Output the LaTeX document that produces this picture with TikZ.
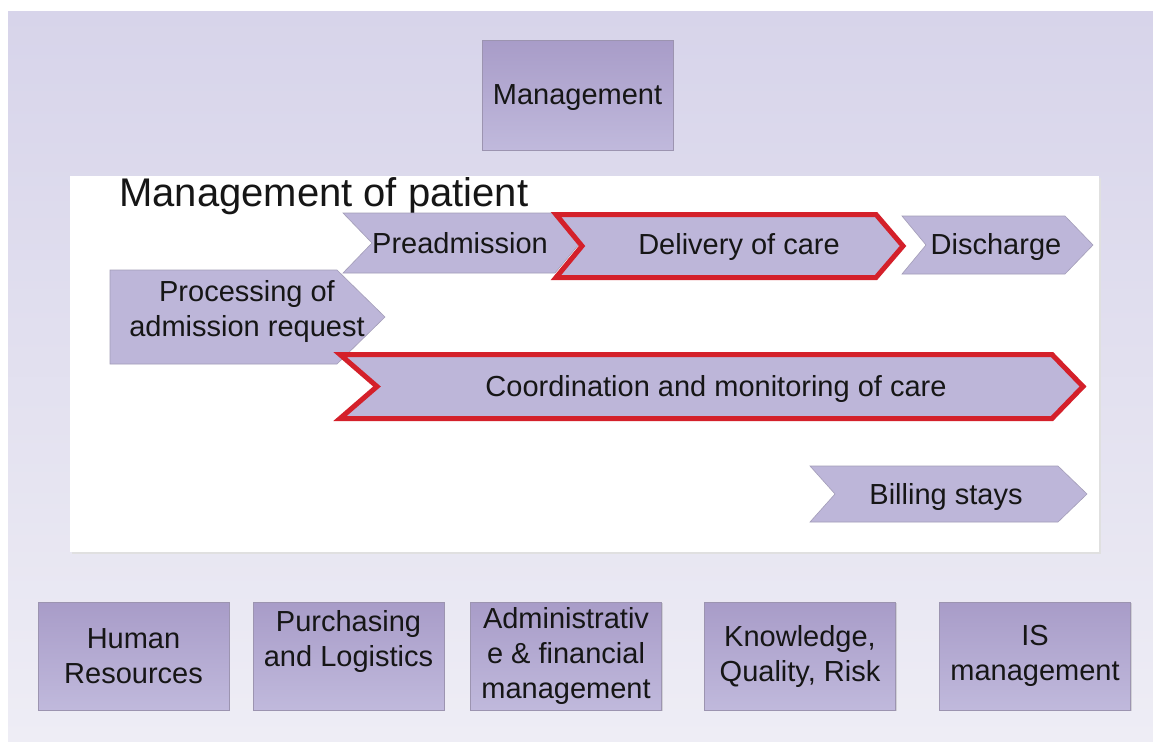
\documentclass[tikz,border=0pt]{standalone}
\usepackage{fontspec}
\setmainfont{Liberation Sans}
\usetikzlibrary{shadows}
\definecolor{bgtop}{HTML}{D7D4EA}
\definecolor{bgbot}{HTML}{EEEDF5}
\definecolor{boxtop}{HTML}{A89CC8}
\definecolor{boxbot}{HTML}{C0B9DC}
\definecolor{boxline}{HTML}{9C94B0}
\definecolor{arrfill}{HTML}{BDB6D9}
\definecolor{arrline}{HTML}{A39DB8}
\definecolor{hired}{HTML}{D4202A}
\definecolor{txt}{HTML}{161616}
\begin{document}
\begin{tikzpicture}[x=1pt,y=-1pt,
  lbl/.style={text=txt, align=center, inner sep=0pt, font=\fontsize{29}{35}\selectfont},
  bl/.style={lbl, anchor=base},
  box/.style={rectangle, top color=boxtop, bottom color=boxbot, draw=boxline, line width=0.6pt,
    minimum width=191pt, minimum height=108pt, inner sep=0pt, text=txt, align=center,
    font=\fontsize{29}{35}\selectfont,
    drop shadow={opacity=0.25, shadow xshift=1.2pt, shadow yshift=-1.2pt}},
  arr/.style={fill=arrfill, draw=arrline, line width=0.6pt, line join=miter},
  redarr/.style={fill=arrfill, draw=hired, line width=5pt, line join=miter}
]
\useasboundingbox (0,0) rectangle (1153,742);
\fill[white] (0,0) rectangle (1153,742);
% slide background
\shade[top color=bgtop, bottom color=bgbot] (8,11) rectangle (1153,741);
% white panel with faint shadow
\fill[black!12] (72,178) rectangle (1101,554);
\fill[white] (70,176) rectangle (1099,552);

% top management box
\node[box, minimum height=110pt] (mgmt) at (577.5,95) {};
\node[bl] (mgmtlbl) at (577.5,104) {Management};

% title
\node[anchor=base west, text=txt, inner sep=0pt, font=\fontsize{40}{45}\selectfont] (title) at (119,206) {Management of patient};

% Preadmission
\path[arr] (343,213) -- (555,213) -- (580,243) -- (555,273) -- (343,273) -- (372,243) -- cycle;
\node[bl] (pre) at (460,253) {Preadmission};

% Delivery of care (red)
\path[redarr] (556,214.5) -- (876,214.5) -- (903,246) -- (876,277.5) -- (556,277.5) -- (582,246) -- cycle;
\node[bl] (del) at (739,254) {Delivery of care};

% Discharge
\path[arr] (902,216) -- (1065,216) -- (1093,245) -- (1065,274) -- (902,274) -- (926,245) -- cycle;
\node[bl] (dis) at (996,254) {Discharge};

% Processing of admission request
\path[arr] (110,270) -- (337,270) -- (385,317) -- (337,364) -- (110,364) -- cycle;
\node[lbl] (proc) at (247,311) {Processing of\\admission request};

% Coordination and monitoring of care (red)
\path[redarr] (340,354.5) -- (1052,354.5) -- (1083,386.5) -- (1052,418.5) -- (340,418.5) -- (377,386.5) -- cycle;
\node[bl] (coord) at (716,396) {Coordination and monitoring of care};

% Billing stays
\path[arr] (810,466) -- (1058,466) -- (1087,494) -- (1058,522) -- (810,522) -- (835,494) -- cycle;
\node[bl] (bill) at (946,504) {Billing stays};

% bottom boxes
\node[box] (hr)  at (133.5,656) {Human\\Resources};
\node[box] (pl)  at (348.5,656) {Purchasing\\and Logistics\\~};
\node[box] (adm) at (566,656) {Administrativ\\e \& financial\\management};
\node[box] (kqr) at (800,656) {Knowledge,\\Quality, Risk};
\node[box] (is)  at (1035,656) {IS\\management};
\end{tikzpicture}
\end{document}
